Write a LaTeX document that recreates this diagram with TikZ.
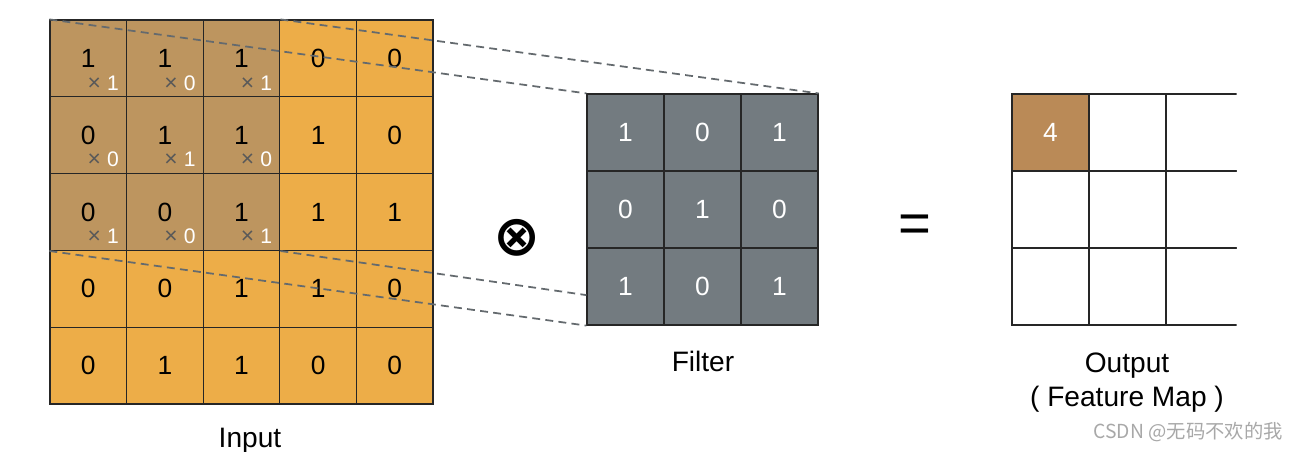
\documentclass[tikz,border=0pt]{standalone}
\usepackage{fontspec}
\setmainfont{Liberation Sans}
\newfontfamily\cjk{Noto Sans CJK SC}
\newfontfamily\symb{DejaVu Sans}
\usetikzlibrary{calc}

\definecolor{inorange}{HTML}{EDAD48}
\definecolor{inbrown}{HTML}{BD955F}
\definecolor{fltgrey}{HTML}{737B80}
\definecolor{outbrown}{HTML}{BA8A57}
\definecolor{dashgrey}{HTML}{646A6E}
\definecolor{markgrey}{HTML}{A8A8A8}

\begin{document}
\begin{tikzpicture}[x=0.02cm, y=-0.02cm,
    cell/.style={draw=black!85, line width=0.7pt, inner sep=0pt, font=\fontsize{15}{18}\selectfont},
    incell/.style={cell, minimum width=1.532cm, minimum height=1.536cm},
    fltcell/.style={cell, fill=fltgrey, text=white, minimum size=1.54cm},
    outcell/.style={cell, minimum size=1.54cm},
    wt/.style={font=\fontsize{12}{14}\selectfont, inner sep=0pt},
    proj/.style={dashgrey, line width=1pt, dash pattern=on 4.5pt off 3pt},
    caption/.style={anchor=base, font=\fontsize{16}{19}\selectfont}]
    \useasboundingbox (0,0) rectangle (1298,451);

    % input, 5x5
    \foreach \vals [count=\row] in {{1,1,1,0,0},{0,1,1,1,0},{0,0,1,1,1},{0,0,1,1,0},{0,1,1,0,0}}
      \foreach \v [count=\col] in \vals {
        \def\cellcol{inorange}
        \ifnum\row<4 \ifnum\col<4 \def\cellcol{inbrown}\fi\fi
        \node[incell, fill=\cellcol] (in-\row-\col) at ({50+76.6*(\col-0.5)}, {20+76.8*(\row-0.5)}) {\v};
      }
    % weights in the window
    \foreach \vals [count=\row] in {{1,0,1},{0,1,0},{1,0,1}}
      \foreach \v [count=\col] in \vals
        \node[wt] (w-\row-\col) at ($(in-\row-\col.center)+(15,24.5)$) {\textcolor{black!65}{\fontsize{13}{13}\selectfont ×}\hspace{3.5pt}\textcolor{white}{\v}};

    % filter, 3x3
    \foreach \vals [count=\row] in {{1,0,1},{0,1,0},{1,0,1}}
      \foreach \v [count=\col] in \vals
        \node[fltcell] (flt-\row-\col) at ({587+77*(\col-0.5)}, {94+77*(\row-0.5)}) {\v};

    % output, cut on the right
    \begin{scope}
      \clip (1000,80) rectangle (1236.5,340);
      \foreach \row in {1,2,3}
        \foreach \col in {1,2,3}
          \node[outcell] (out-\row-\col) at ({1012+77*(\col-0.5)}, {94+77*(\row-0.5)}) {};
    \end{scope}
    \node[outcell, fill=outbrown, text=white] (res) at (out-1-1) {4};

    % projection of the window onto the filter
    \coordinate (dD) at ($(flt-3-1.north west)!0.61!(flt-3-1.south west)$);
    \draw[proj] (in-1-1.north west) -- (flt-1-1.north west);
    \draw[proj] (in-1-3.north east) -- (flt-1-3.north east);
    \draw[proj] (in-3-1.south west) -- (flt-3-1.south west);
    \draw[proj] (in-3-3.south east) -- (dD);

    \node (conv) at (517,238) {\symb\bfseries\fontsize{32}{36}\selectfont ⊗};
    \node (eq) at (915,229) {\fontsize{32}{36}\selectfont =};

    \node[caption] (inlbl) at (250,447) {Input};
    \node[caption] (fltlbl) at (703,371) {Filter};
    \node[caption] (outlbl) at (1127,372) {Output};
    \node[caption] (maplbl) at (1127,406) {( Feature Map )};
    \node[anchor=east, inner sep=0pt, text=markgrey, font=\cjk\fontsize{11}{13}\selectfont] (mark) at (1283,432) {CSDN @无码不欢的我};
\end{tikzpicture}
\end{document}
